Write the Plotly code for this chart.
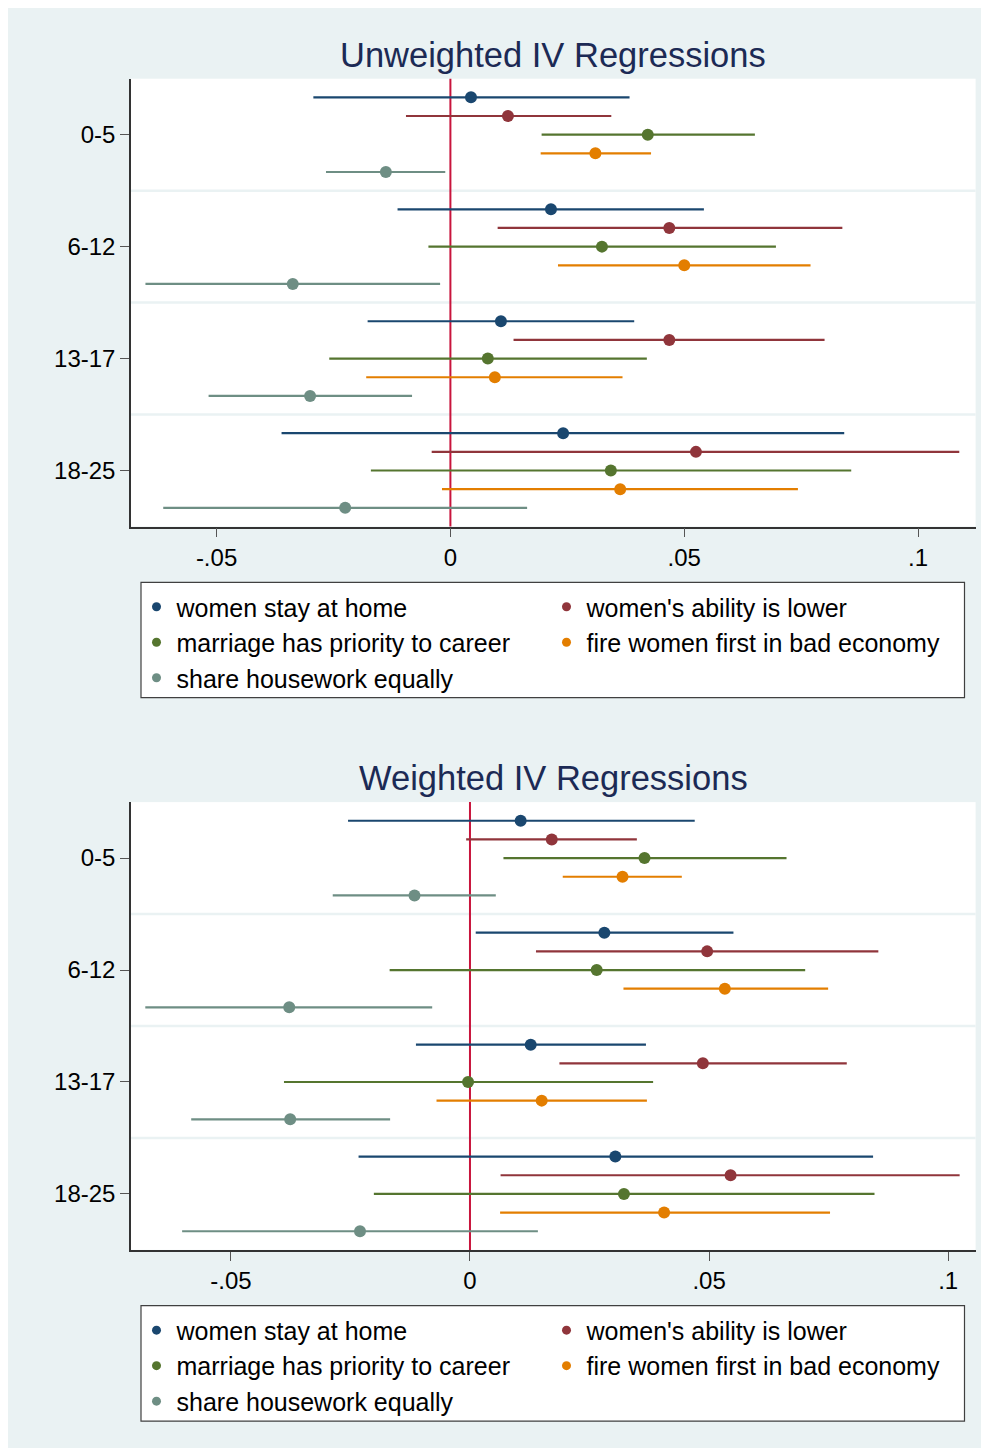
import plotly.graph_objects as go

M = 8  # page body margin
W, H = 989 - M, 1448 - M
FONT = "Liberation Sans, Arial, sans-serif"
BG = "#EAF2F3"

groups = ["0-5", "6-12", "13-17", "18-25"]
series = ["women stay at home", "women's ability is lower",
          "marriage has priority to career", "fire women first in bad economy",
          "share housework equally"]
colors = ["#1A476F", "#90353B", "#55752F", "#E37E00", "#6E8E84"]

# Unweighted IV regressions: point estimates and CI bounds, rows = groups, cols = series
unw_est = [
    [0.0044, 0.0123, 0.0422, 0.0310, -0.0138],
    [0.0215, 0.0468, 0.0324, 0.0500, -0.0337],
    [0.0108, 0.0468, 0.0080, 0.0095, -0.0300],
    [0.0241, 0.0525, 0.0343, 0.0363, -0.0225],
]
unw_lo = [
    [-0.0293, -0.0095, 0.0195, 0.0193, -0.0266],
    [-0.0113, 0.0101, -0.0047, 0.0230, -0.0652],
    [-0.0177, 0.0135, -0.0259, -0.0180, -0.0517],
    [-0.0361, -0.0040, -0.0170, -0.0018, -0.0614],
]
unw_hi = [
    [0.0383, 0.0344, 0.0651, 0.0429, -0.0011],
    [0.0542, 0.0838, 0.0696, 0.0770, -0.0022],
    [0.0393, 0.0800, 0.0420, 0.0368, -0.0082],
    [0.0842, 0.1088, 0.0857, 0.0743, 0.0164],
]

# Weighted IV regressions
wgt_est = [
    [0.0106, 0.0171, 0.0365, 0.0319, -0.0116],
    [0.0281, 0.0496, 0.0265, 0.0533, -0.0378],
    [0.0127, 0.0487, -0.0004, 0.0150, -0.0376],
    [0.0304, 0.0545, 0.0322, 0.0406, -0.0230],
]
wgt_lo = [
    [-0.0255, -0.0008, 0.0070, 0.0194, -0.0287],
    [0.0012, 0.0138, -0.0168, 0.0321, -0.0679],
    [-0.0113, 0.0187, -0.0389, -0.0070, -0.0583],
    [-0.0233, 0.0064, -0.0201, 0.0063, -0.0602],
]
wgt_hi = [
    [0.0470, 0.0349, 0.0662, 0.0443, 0.0054],
    [0.0551, 0.0854, 0.0701, 0.0749, -0.0079],
    [0.0368, 0.0788, 0.0383, 0.0370, -0.0167],
    [0.0843, 0.1024, 0.0846, 0.0753, 0.0142],
]

titles = ["Unweighted IV Regressions", "Weighted IV Regressions"]
xticks = [-0.05, 0, 0.05, 0.1]
xticktext = ["-.05", "0", ".05", ".1"]
xranges = [[-0.06829, 0.11229], [-0.07089, 0.10574]]

panels = [(unw_est, unw_lo, unw_hi), (wgt_est, wgt_lo, wgt_hi)]

# page-pixel layout
OFF = 723.4
plot_top, plot_bot = 78.7, 526.5
plot_left, plot_right = 131, 975.6


def fx(px):
    return (px - M) / W


def fy(py):
    return 1 - (py - M) / H


fig = go.Figure()

for p, (est, lo, hi) in enumerate(panels):
    xa = "x" if p == 0 else "x2"
    ya = "y" if p == 0 else "y2"
    leg = "legend" if p == 0 else "legend2"
    for s, name in enumerate(series):
        xs, ys, ep, em = [], [], [], []
        for g in range(len(groups)):
            xs.append(est[g][s])
            ys.append(6 * g + s + 1)
            ep.append(hi[g][s] - est[g][s])
            em.append(est[g][s] - lo[g][s])
        fig.add_trace(go.Scatter(
            x=xs, y=ys, mode="markers", xaxis=xa, yaxis=ya,
            marker=dict(size=12, color=colors[s]),
            error_x=dict(type="data", symmetric=False, array=ep, arrayminus=em,
                         width=0, thickness=2.2, color=colors[s]),
            showlegend=False, hoverinfo="skip"))
    for s, name in enumerate(series):
        fig.add_trace(go.Scatter(
            x=[None], y=[None], mode="markers", xaxis=xa, yaxis=ya,
            marker=dict(size=9, color=colors[s]), name=name,
            legend=leg, showlegend=True))

shapes = []
annotations = []
for p in range(2):
    o = OFF * p
    xa = "x" if p == 0 else "x2"
    ya = "y" if p == 0 else "y2"
    # legend box
    shapes.append(dict(type="rect", xref="paper", yref="paper",
                       x0=fx(141), x1=fx(964.5), y0=fy(697.7 + o), y1=fy(582.3 + o),
                       fillcolor="white", line=dict(color="#404040", width=1.2),
                       layer="below"))
    # group separators
    for g in range(1, len(groups)):
        shapes.append(dict(type="line", xref=xa + " domain", yref=ya,
                           x0=0, x1=1, y0=6 * g, y1=6 * g,
                           line=dict(color=BG, width=2.5), layer="below"))
    # zero line
    shapes.append(dict(type="line", xref=xa, yref=ya + " domain",
                       x0=0, x1=0, y0=0, y1=1,
                       line=dict(color="#C8143C", width=2), layer="below"))
    annotations.append(dict(text=titles[p], xref="paper", yref="paper",
                            x=fx(553), y=fy(55 + o), xanchor="center",
                            yanchor="middle", showarrow=False,
                            font=dict(family=FONT, size=34.5, color="#1C2A55")))

axis_common = dict(showgrid=False, zeroline=False, showline=True,
                   linecolor="#333333", linewidth=1.5, ticks="outside",
                   ticklen=9, tickwidth=1.2, tickcolor="#555555",
                   tickfont=dict(family=FONT, size=24, color="black"))

layout = dict(
    width=W, height=H, margin=dict(l=0, r=0, t=0, b=0),
    paper_bgcolor=BG, plot_bgcolor="white",
    shapes=shapes, annotations=annotations,
)

for p in range(2):
    o = OFF * p
    xk = "xaxis" if p == 0 else "xaxis2"
    yk = "yaxis" if p == 0 else "yaxis2"
    layout[xk] = dict(axis_common, domain=[fx(plot_left), fx(plot_right)],
                      range=xranges[p], tickmode="array", tickvals=xticks,
                      ticktext=xticktext, anchor="y" if p == 0 else "y2")
    layout[yk] = dict(axis_common, domain=[fy(plot_bot + o), fy(plot_top + o)],
                      range=[24, 0], tickmode="array",
                      tickvals=[6 * g + 3 for g in range(len(groups))],
                      ticktext=groups, anchor="x" if p == 0 else "x2")
    lk = "legend" if p == 0 else "legend2"
    layout[lk] = dict(orientation="h", xref="paper", yref="paper",
                      x=fx(136.5), y=fy(584 + o), xanchor="left", yanchor="top",
                      entrywidth=365, entrywidthmode="pixels",
                      bgcolor="rgba(0,0,0,0)", borderwidth=0,
                      font=dict(family=FONT, size=25, color="black"),
                      traceorder="normal")

fig.update_layout(**layout)
fig.write_html("out.html")
